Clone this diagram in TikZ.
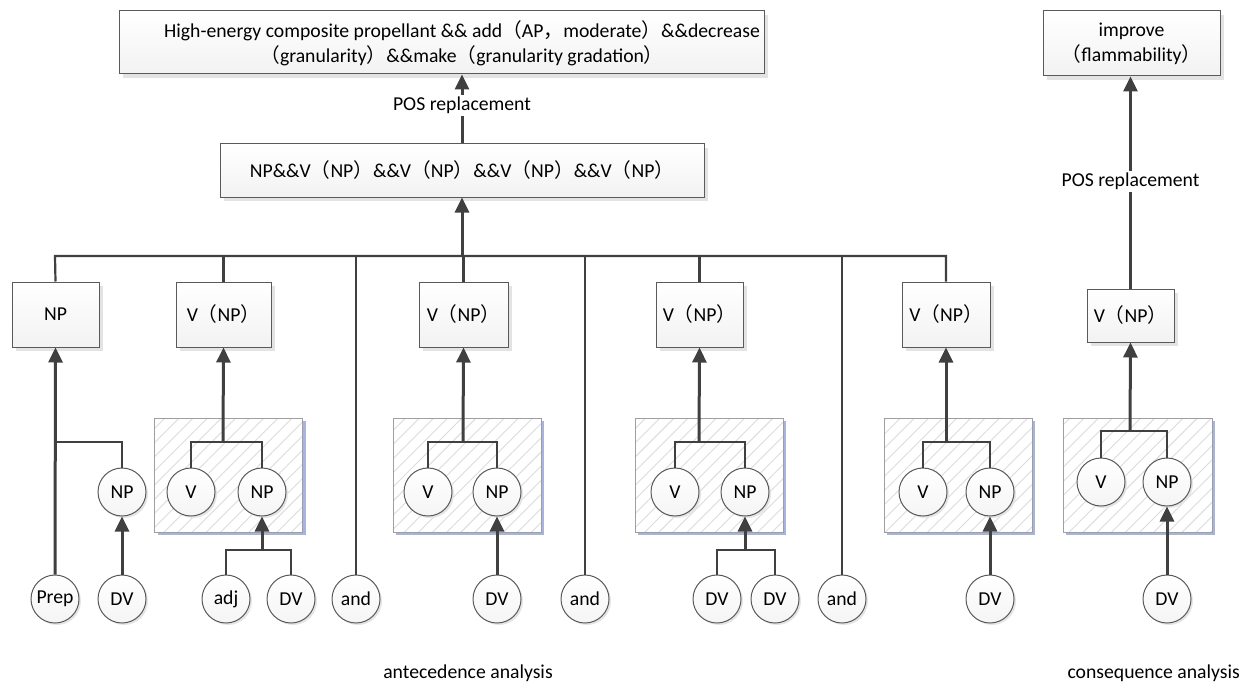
\documentclass[tikz,border=0pt]{standalone}
\usepackage{fontspec}
\setmainfont{Carlito}
\newfontfamily\cjk{Noto Sans CJK SC}
\usetikzlibrary{arrows.meta,shadows,patterns.meta}
% full-width punctuation
\newcommand\lp{{\cjk （}}
\newcommand\rp{{\cjk ）}}
\newcommand\fc{{\cjk ，}}
\definecolor{linecol}{HTML}{404040}
\definecolor{edgecol}{HTML}{5A5A5A}
\definecolor{blueshade}{RGB}{168,180,220}
\definecolor{hatchcol}{HTML}{DCDCDC}
\tikzset{
  rbox/.style={draw=edgecol, line width=1pt, top color=white, bottom color=gray!10,
    inner sep=0pt, align=center,
    general shadow={fill=gray!22, shadow xshift=4pt, shadow yshift=-4pt}},
  hbox/.style={draw=gray!75, line width=1pt, inner sep=0pt,
    minimum width=148pt, minimum height=114pt,
    general shadow={fill=blueshade, shadow xshift=3pt, shadow yshift=-3pt},
    preaction={fill=white},
    pattern={Lines[angle=45,distance=10pt,line width=0.9pt]}, pattern color=hatchcol},
  circ/.style={circle, draw=edgecol, line width=1pt, minimum size=48pt, inner sep=0pt,
    top color=white, bottom color=gray!8,
    general shadow={fill=gray!20, shadow xshift=2pt, shadow yshift=-2pt}},
  ln/.style={draw=linecol, line width=2.2pt},
  arr/.style={draw=linecol, line width=3pt, -{Triangle[length=15pt,width=14pt]}},
  lbl/.style={fill=white, inner sep=2pt},
}
\begin{document}
\begin{tikzpicture}[x=1pt, y=-1pt, font=\fontsize{19.7}{25}\selectfont]
\useasboundingbox (0,0) rectangle (1242,682);

% ---- top level results
\node[rbox, minimum width=645pt, minimum height=63pt] (T1) at (441.5,42.5) {};
\node[align=center, inner sep=0pt] (T1text) at (462,43)
  {High-energy composite propellant \&\& add\lp AP\fc moderate\rp\&\&decrease\\\lp granularity\rp\&\&make\lp granularity gradation\rp};
\node[rbox, minimum width=177pt, minimum height=65pt] (T2) at (1131.5,43.5)
  {improve\\\lp flammability\rp};

% ---- pattern sequence
\node[rbox, minimum width=484pt, minimum height=53pt] (M) at (462,170.5)
  {NP\&\&V\lp NP\rp\&\&V\lp NP\rp\&\&V\lp NP\rp\&\&V\lp NP\rp};

% ---- phrase boxes
\node[rbox, minimum width=87pt, minimum height=65pt] (B1) at (55.5,314.5) {NP};
\node[rbox, minimum width=95pt, minimum height=65pt] (B2) at (223.5,314.5) {V\lp NP\rp};
\node[rbox, minimum width=89pt, minimum height=65pt] (B3) at (463.5,314.5) {V\lp NP\rp};
\node[rbox, minimum width=87pt, minimum height=65pt] (B4) at (699.5,314.5) {V\lp NP\rp};
\node[rbox, minimum width=88pt, minimum height=65pt] (B5) at (946,314.5) {V\lp NP\rp};
\node[rbox, minimum width=87pt, minimum height=53pt] (B6) at (1130.5,315.5) {V\lp NP\rp};

% ---- hatched groups
\node[hbox] (H1) at (228.5,475) {};
\node[hbox] (H2) at (467,475) {};
\node[hbox] (H3) at (709,475) {};
\node[hbox] (H4) at (958,475) {};
\node[hbox, minimum width=149pt] (H5) at (1137.5,475) {};

% ---- word nodes
\node[circ] (NP0) at (122,492) {NP};
\node[circ] (Prep) at (55,599) {Prep};
\node[circ] (DV0) at (122,599) {DV};

\node[circ] (V1) at (191,492) {V};
\node[circ] (NP1) at (262,492) {NP};
\node[circ] (adj) at (226,599) {adj};
\node[circ] (DV1) at (291,599) {DV};

\node[circ] (and1) at (356,599) {and};

\node[circ] (V2) at (428,492) {V};
\node[circ] (NP2) at (497,492) {NP};
\node[circ] (DV2) at (497,599) {DV};

\node[circ] (and2) at (585,599) {and};

\node[circ] (V3) at (675,492) {V};
\node[circ] (NP3) at (745,492) {NP};
\node[circ] (DVa) at (717,599) {DV};
\node[circ] (DVb) at (775,599) {DV};

\node[circ] (and3) at (842,599) {and};

\node[circ] (V4) at (923,492) {V};
\node[circ] (NP4) at (990,492) {NP};
\node[circ] (DV4) at (990,599) {DV};

\node[circ] (V5) at (1101,482) {V};
\node[circ] (NP5) at (1167,482) {NP};
\node[circ] (DV5) at (1167,599) {DV};

% ---- junction points
\coordinate (busL) at (55,256);
\coordinate (busR) at (946,256);
\coordinate (busM) at (462,256);
\coordinate (j0) at (55,442);
\coordinate (j1) at (223,442);
\coordinate (j2) at (463,442);
\coordinate (j3) at (699,442);
\coordinate (j4) at (946,442);
\coordinate (j5) at (1130,431);
\coordinate (k1) at (262,550);
\coordinate (k3) at (745,550);

% ---- bus
\draw[ln] (B1.north) -- (busL) -- (busR) -- (B5.north);
\draw[ln] (B2.north) -- (B2.north |- busL);
\draw[ln] (B3.north) -- (B3.north |- busL);
\draw[ln] (B4.north) -- (B4.north |- busL);
\draw[ln] (and1.north) -- (and1.north |- busL);
\draw[ln] (and2.north) -- (and2.north |- busL);
\draw[ln] (and3.north) -- (and3.north |- busL);
\draw[arr] (busM) -- (M.south);

% ---- POS replacement
\draw[arr] (M.north) -- node[lbl, pos=0.55] (pos1) {POS replacement} (M.north |- T1.south);
\draw[arr] (B6.north) -- node[lbl, pos=0.505] (pos2) {POS replacement} (B6.north |- T2.south);

% ---- left NP
\draw[arr] (Prep.north) -- (B1.south);
\draw[ln] (j0) -| (NP0.north);
\draw[arr] (DV0.north) -- (NP0.south);

% ---- group 1
\draw[ln] (V1.north) |- (j1) -| (NP1.north);
\draw[arr] (j1) -- (B2.south);
\draw[ln] (adj.north) |- (k1) -| (DV1.north);
\draw[arr] (k1) -- (NP1.south);

% ---- group 2
\draw[ln] (V2.north) |- (j2) -| (NP2.north);
\draw[arr] (j2) -- (B3.south);
\draw[arr] (DV2.north) -- (NP2.south);

% ---- group 3
\draw[ln] (V3.north) |- (j3) -| (NP3.north);
\draw[arr] (j3) -- (B4.south);
\draw[ln] (DVa.north) |- (k3) -| (DVb.north);
\draw[arr] (k3) -- (NP3.south);

% ---- group 4
\draw[ln] (V4.north) |- (j4) -| (NP4.north);
\draw[arr] (j4) -- (B5.south);
\draw[arr] (DV4.north) -- (NP4.south);

% ---- group 5
\draw[ln] (V5.north) |- (j5) -| (NP5.north);
\draw[arr] (j5) -- (B6.south);
\draw[arr] (DV5.north) -- (NP5.south);

% ---- captions
\node (cap1) at (468,673) {antecedence analysis};
\node[anchor=east, inner sep=1pt] (cap2) at (1241,673) {consequence analysis};
\end{tikzpicture}
\end{document}
